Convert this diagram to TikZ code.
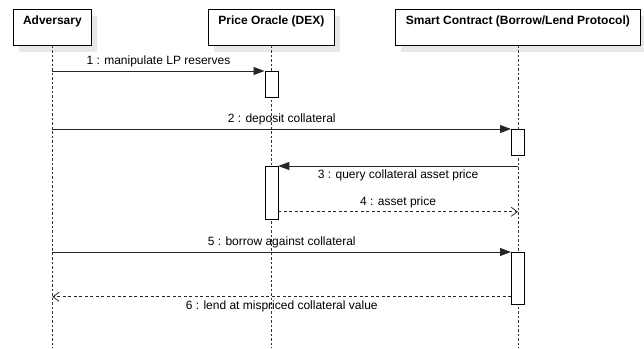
\documentclass[tikz,border=0pt]{standalone}
\usepackage{fontspec}
\setmainfont{Liberation Sans}
\usetikzlibrary{arrows.meta,shadows,calc}
\tikzset{
  actor/.style={draw=black, fill=white, line width=0.8pt, minimum height=36pt, inner sep=0pt, anchor=north west,
    drop shadow={shadow xshift=6pt, shadow yshift=-7pt, fill=black!9, opacity=1}},
  title/.style={anchor=north, yshift=-6.5pt, inner sep=0pt, font=\fontsize{12}{14}\selectfont\bfseries},
  life/.style={draw=black!80, line width=0.8pt, dash pattern=on 2.5pt off 2pt},
  actbox/.style={draw=black, fill=white, line width=0.8pt, minimum width=13pt, inner sep=0pt, anchor=north},
  sync/.style={draw=black!85, line width=0.8pt, -{Triangle[length=11pt,width=8pt]}},
  reply/.style={draw=black!85, line width=0.8pt, dash pattern=on 3pt off 2.5pt, -{Straight Barb[length=6pt,width=9pt]}},
  msg/.style={inner sep=3.5pt, font=\fontsize{12}{14}\selectfont}
}
\begin{document}
\begin{tikzpicture}[x=1pt,y=-1pt]
\useasboundingbox (0,0) rectangle (644,348);
% actors
\node[actor, minimum width=78pt, label={[title]north:Adversary}] (adv) at (13,9) {};
\node[actor, minimum width=126pt, label={[title]north:Price Oracle (DEX)}] (dex) at (208,9) {};
\node[actor, minimum width=245pt, label={[title]north:Smart Contract (Borrow/Lend Protocol)}] (sc) at (395,9) {};
\coordinate (bot) at (0,348);
% lifelines
\draw[life] (adv.south) -- (adv.south |- bot);
\draw[life] (dex.south) -- (dex.south |- bot);
\draw[life] (sc.south) -- (sc.south |- bot);
% activations
\node[actbox, minimum height=26pt] (act1) at (dex.south |- 0,71) {};
\node[actbox, minimum height=26pt] (act2) at (sc.south |- 0,129) {};
\node[actbox, minimum height=53pt] (act3) at (dex.south |- 0,166) {};
\node[actbox, minimum height=52pt] (act5) at (sc.south |- 0,252) {};
% messages
\draw[sync] (adv.south |- act1.north west) -- node[msg, above] {1 : manipulate LP reserves} (act1.north west);
\draw[sync] (adv.south |- act2.north west) -- node[msg, above] {2 : deposit collateral} (act2.north west);
\draw[sync] (sc.south |- act3.north east) -- node[msg, below] {3 : query collateral asset price} (act3.north east);
\coordinate (m4) at ([yshift=8pt]act3.south east);
\draw[reply] (m4) -- node[msg, above] {4 : asset price} (sc.south |- m4);
\draw[sync] (adv.south |- act5.north west) -- node[msg, above] {5 : borrow against collateral} (act5.north west);
\coordinate (m6) at ([yshift=8pt]act5.south west);
\draw[reply] (m6) -- node[msg, below] {6 : lend at mispriced collateral value} (adv.south |- m6);
\end{tikzpicture}
\end{document}
